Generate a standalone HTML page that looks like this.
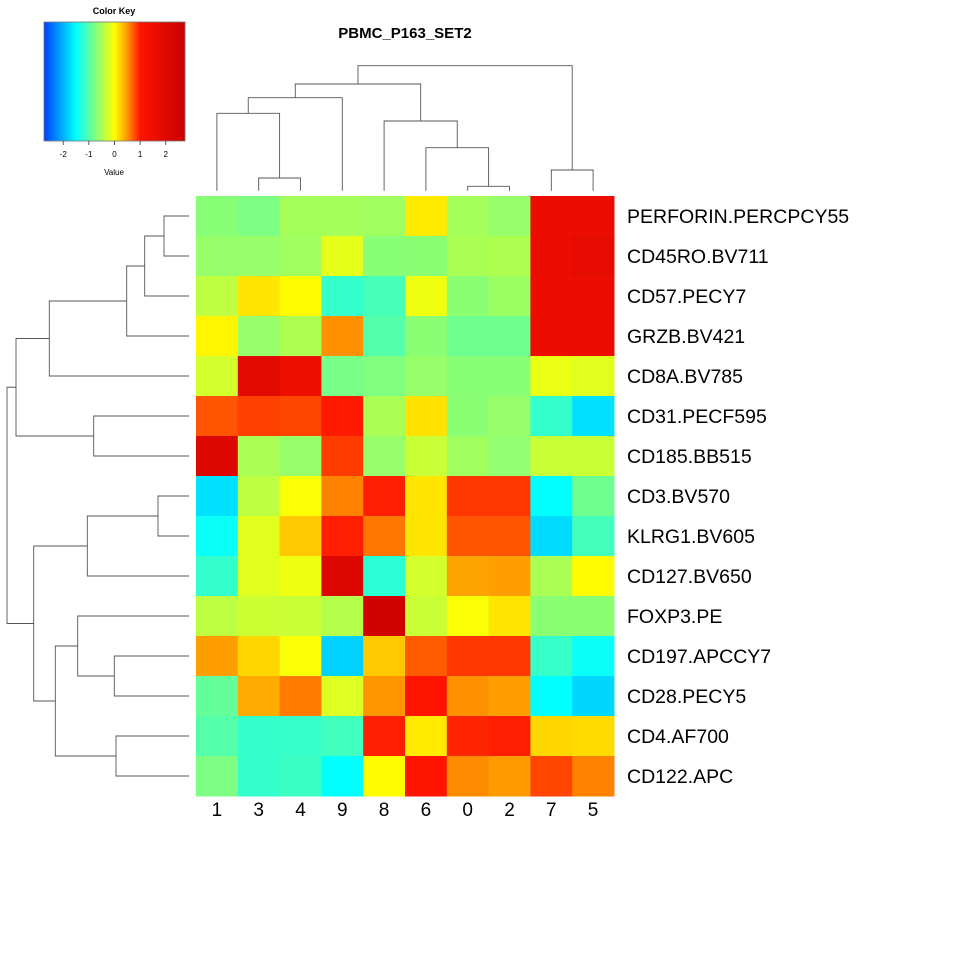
<!DOCTYPE html>
<html><head><meta charset="utf-8">
<style>
html,body{margin:0;padding:0;background:#fff;}
svg{display:block;font-family:"Liberation Sans",Arial,sans-serif;}
</style></head>
<body>
<svg id="chart" width="980" height="980" viewBox="0 0 980 980" xmlns="http://www.w3.org/2000/svg">
<text x="405" y="38" text-anchor="middle" font-size="15" font-weight="bold">PBMC_P163_SET2</text>
<text x="114" y="14" text-anchor="middle" font-size="9" font-weight="bold">Color Key</text>
<text x="114" y="175" text-anchor="middle" font-size="8">Value</text>
</svg>
<script>
const rowLabels = ["PERFORIN.PERCPCY55","CD45RO.BV711","CD57.PECY7","GRZB.BV421","CD8A.BV785","CD31.PECF595","CD185.BB515","CD3.BV570","KLRG1.BV605","CD127.BV650","FOXP3.PE","CD197.APCCY7","CD28.PECY5","CD4.AF700","CD122.APC"];
const colLabels = ["1","3","4","9","8","6","0","2","7","5"];
const values = [
[-0.7,-0.77,-0.53,-0.53,-0.56,0.1,-0.53,-0.62,1.6,1.6],
[-0.62,-0.62,-0.56,-0.15,-0.7,-0.68,-0.5,-0.47,1.6,1.8],
[-0.38,0.12,0.02,-1.2,-1.09,-0.09,-0.68,-0.59,1.6,1.6],
[0.05,-0.62,-0.47,0.52,-1.0,-0.68,-0.85,-0.85,1.6,1.6],
[-0.26,1.95,1.55,-0.8,-0.74,-0.62,-0.7,-0.7,-0.12,-0.18],
[0.75,0.83,0.81,0.98,-0.5,0.14,-0.68,-0.62,-1.2,-1.7],
[2.1,-0.5,-0.62,0.85,-0.62,-0.32,-0.56,-0.65,-0.32,-0.32],
[-1.7,-0.38,-0.03,0.58,0.96,0.12,0.87,0.87,-1.5,-0.85],
[-1.45,-0.18,0.26,0.96,0.62,0.12,0.75,0.75,-1.73,-1.1],
[-1.2,-0.18,-0.09,2.1,-1.25,-0.26,0.44,0.46,-0.5,0.02],
[-0.38,-0.3,-0.32,-0.44,2.5,-0.32,-0.03,0.13,-0.68,-0.68],
[0.46,0.19,-0.03,-1.8,0.26,0.73,0.87,0.87,-1.18,-1.45],
[-0.91,0.4,0.6,-0.2,0.5,1.0,0.52,0.46,-1.5,-1.76],
[-1.0,-1.2,-1.18,-1.12,0.96,0.1,0.94,0.96,0.19,0.17],
[-0.77,-1.2,-1.15,-1.5,0.02,1.0,0.54,0.48,0.81,0.58]
];
const keyTicks = [-2,-1,0,1,2];
const colMerges = [[-2,-3,12.7],[-7,-8,4.4],[-6,2,43],[-1,1,77.4],[-9,-10,20.7],[-5,3,69.7],[4,-4,93],[7,6,106.7],[8,5,125]];
const rowMerges = [[-1,-2,25],[1,-3,44.3],[2,-4,62.3],[-6,-7,95.3],[3,-5,139.7],[-8,-9,31],[6,-10,101.7],[-12,-13,74.7],[-11,8,111.3],[-14,-15,73],[9,10,133.7],[7,11,155.3],[5,4,173],[13,12,182]];

const NS="http://www.w3.org/2000/svg";
const svg=document.getElementById('chart');
function mk(tag,attrs){const e=document.createElementNS(NS,tag);for(const k in attrs)e.setAttribute(k,attrs[k]);svg.appendChild(e);return e;}

const X0=196,X1=614,Y0=196,Y1=796;
const cw=(X1-X0)/colLabels.length, ch=(Y1-Y0)/rowLabels.length;
const xCell=i=>X0+i*cw, yCell=j=>Y0+j*ch;

const stops=[[-2.75,[0,64,255]],[-1.5,[0,255,255]],[0,[255,255,0]],[0.5,[255,150,0]],[1,[255,20,0]],[2.75,[200,0,0]]];
function color(v){
  if(v<=stops[0][0])return 'rgb('+stops[0][1]+')';
  for(let i=1;i<stops.length;i++){
    if(v<=stops[i][0]){const a=stops[i-1],b=stops[i];const t=(v-a[0])/(b[0]-a[0]);
      return 'rgb('+a[1].map((c,k)=>Math.round(c+(b[1][k]-c)*t)).join(',')+')';}
  }
  return 'rgb('+stops[stops.length-1][1]+')';
}

values.forEach((row,j)=>row.forEach((v,i)=>{
  const r=mk('rect',{x:xCell(i),y:yCell(j),width:cw+0.5,height:ch+0.5,fill:color(v)});
  
  
}));
rowLabels.forEach((l,j)=>{
  const t=mk('text',{x:627,y:yCell(j)+ch/2+7,'font-size':19.5});
  t.textContent=l;
  
  
});
colLabels.forEach((l,i)=>{
  const t=mk('text',{x:xCell(i)+cw/2,y:816,'font-size':19,'text-anchor':'middle'});
  t.textContent=l;
  
  
});

const KX0=44,KX1=185,KY0=22,KY1=141,kMin=-2.75,kMax=2.75;
const kx=v=>KX0+(v-kMin)/(kMax-kMin)*(KX1-KX0);
for(let p=KX0;p<KX1;p++){
  const v=kMin+(p+0.5-KX0)/(KX1-KX0)*(kMax-kMin);
  const r=mk('rect',{x:p,y:KY0,width:1.2,height:KY1-KY0,fill:color(v)});
  
  
}
const kb=mk('rect',{x:KX0,y:KY0,width:KX1-KX0,height:KY1-KY0,fill:'none',stroke:'#777','stroke-width':0.8});


keyTicks.forEach(t=>{
  const l=mk('line',{x1:kx(t),x2:kx(t),y1:KY1,y2:KY1+4,stroke:'#333','stroke-width':0.8});
  
  
  const tx=mk('text',{x:kx(t),y:KY1+16,'font-size':8,'text-anchor':'middle'});
  tx.textContent=String(t);
  
  
});

function dendro(merges,nLeaves,leafPos,hToPix,horizontal,name){
  const pos=[],ht=[];
  const get=c=>c<0?[leafPos(-c-1),0]:[pos[c-1],ht[c-1]];
  merges.forEach((m,k)=>{
    const [p1,h1]=get(m[0]),[p2,h2]=get(m[1]);const h=m[2];
    pos[k]=(p1+p2)/2;ht[k]=h;
    const H=hToPix(h),A=hToPix(h1),B=hToPix(h2);
    const d=horizontal?`M${A},${p1}H${H}V${p2}H${B}`:`M${p1},${A}V${H}H${p2}V${B}`;
    const e=mk('path',{d:d,fill:'none',stroke:'#555','stroke-width':0.9});
    
    
  });
}
dendro(colMerges,colLabels.length,i=>xCell(i)+cw/2,h=>190.7-h,false,'column-dendrogram');
dendro(rowMerges,rowLabels.length,j=>yCell(j)+ch/2,h=>189-h,true,'row-dendrogram');
</script>
</body></html>
